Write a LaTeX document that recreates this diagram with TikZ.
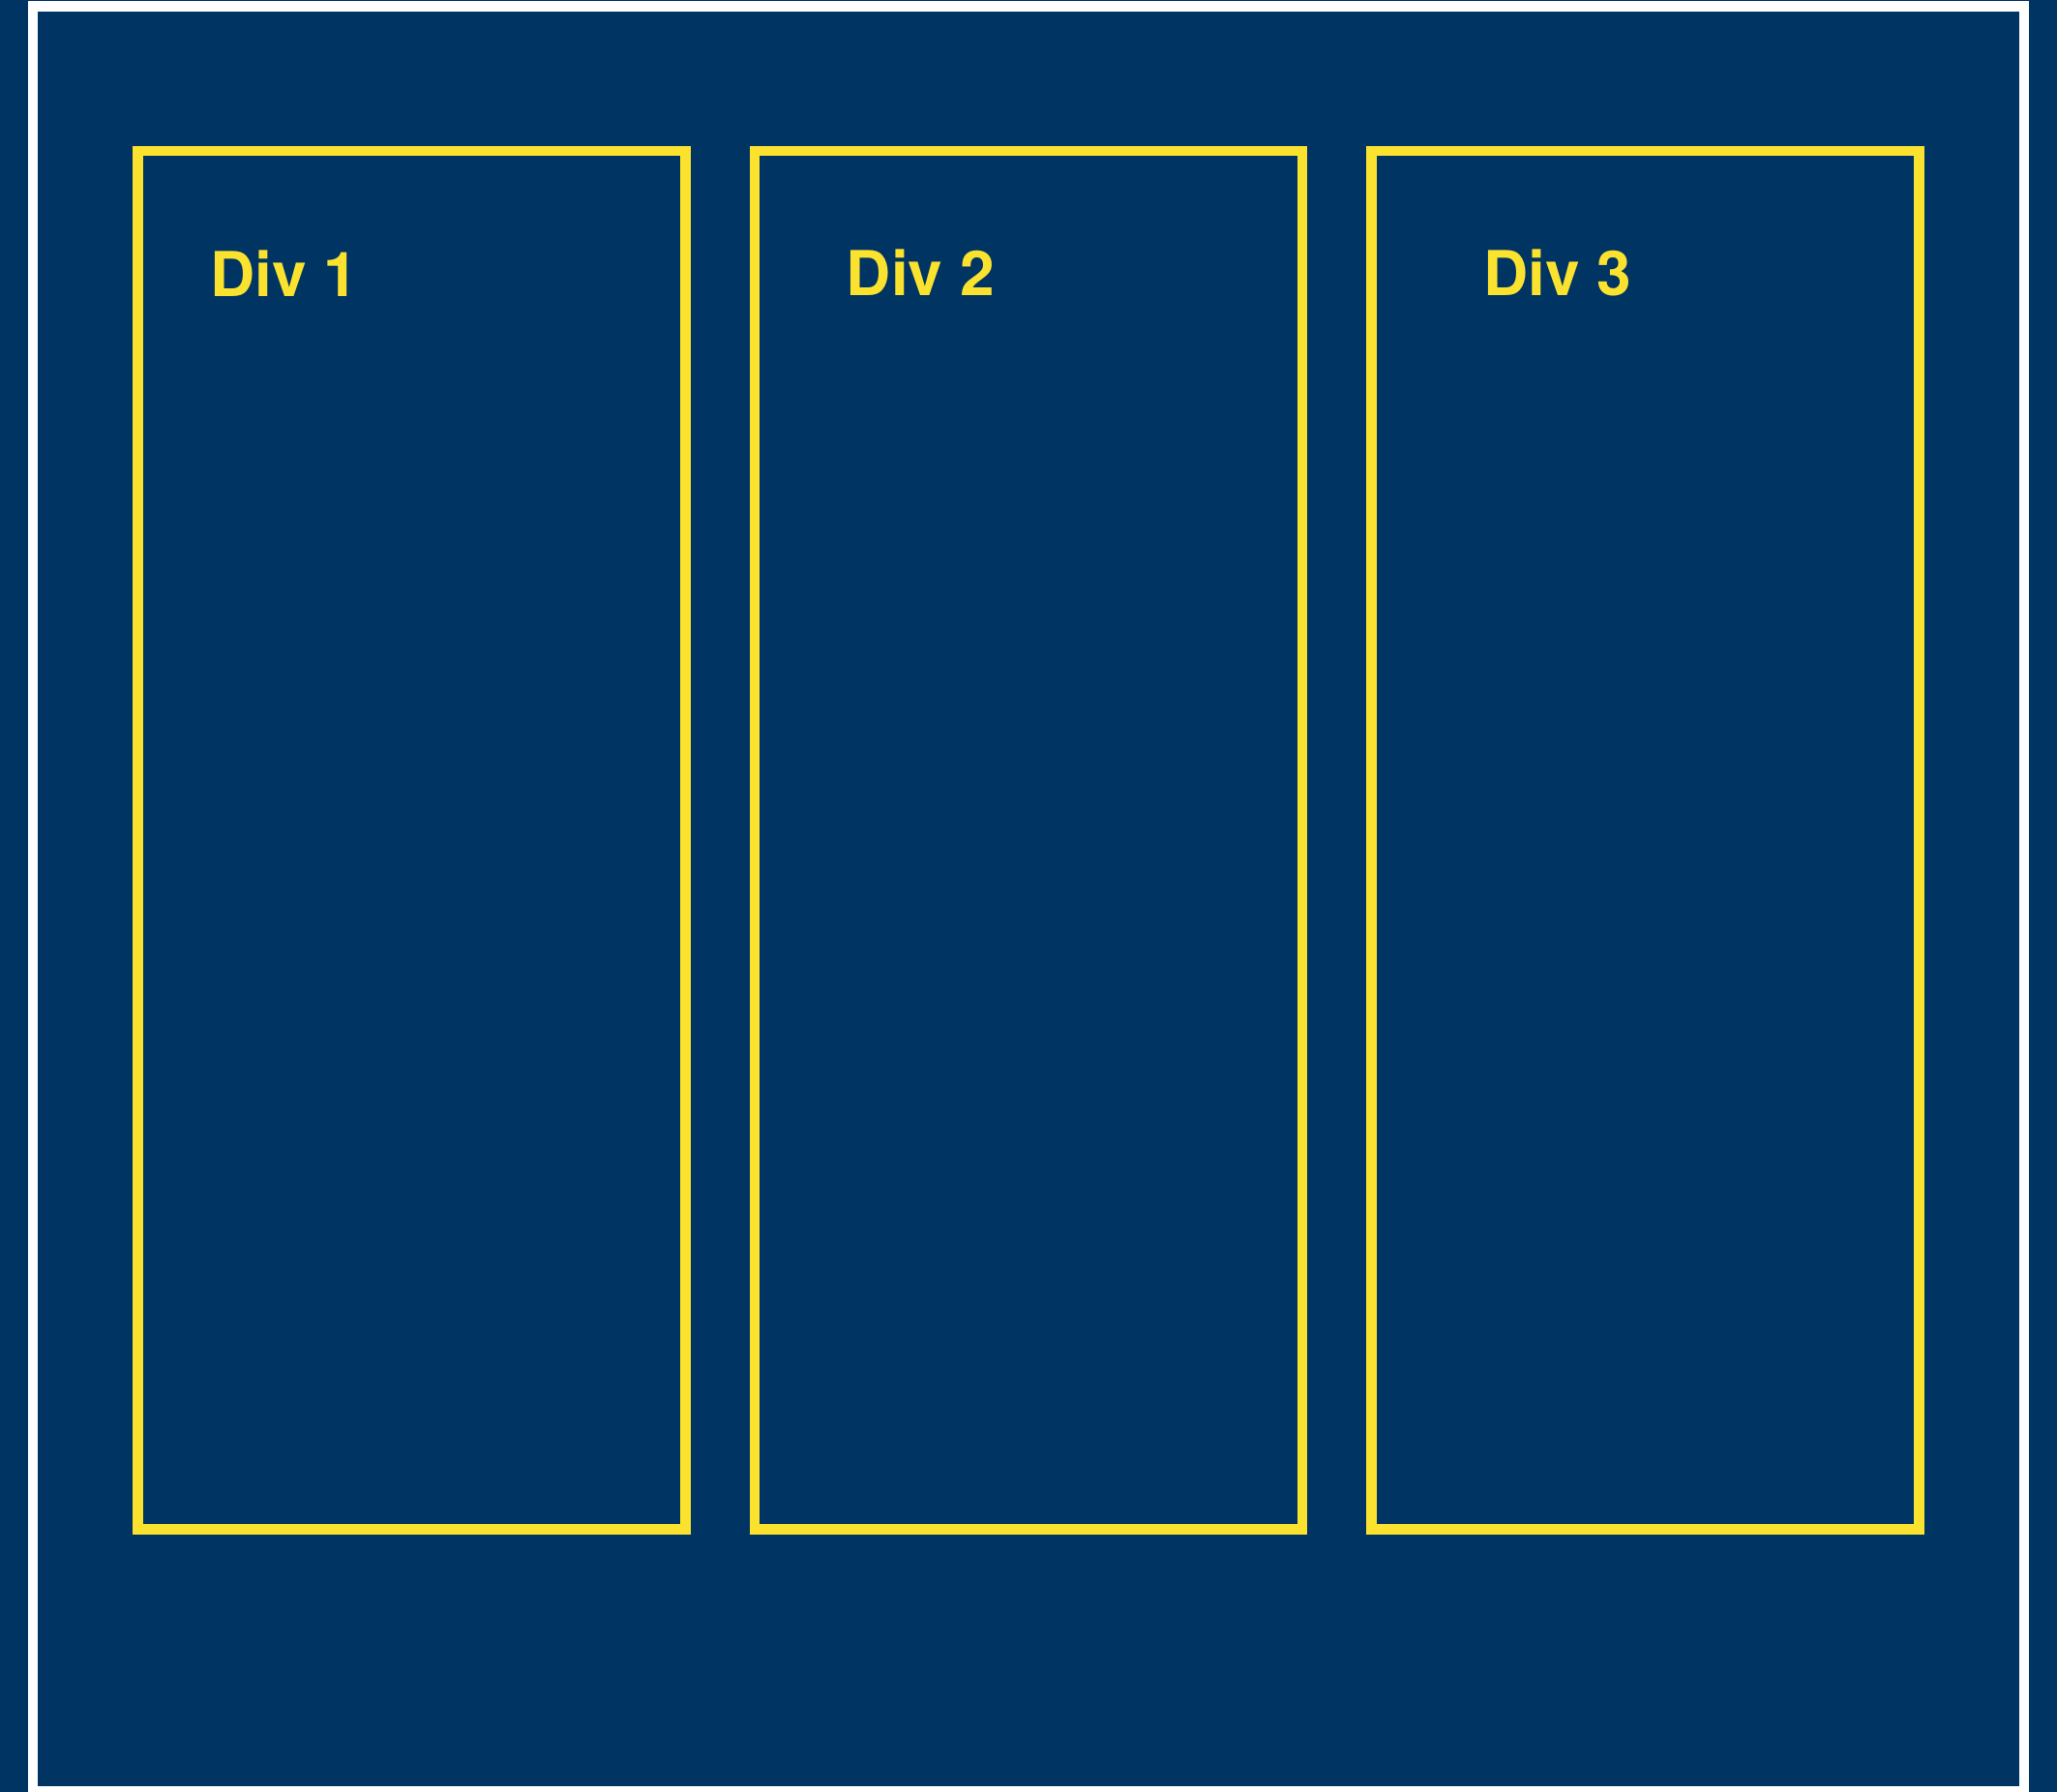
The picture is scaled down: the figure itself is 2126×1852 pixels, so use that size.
\documentclass[tikz,border=0pt]{standalone}
\usepackage{fontspec}
\setmainfont{TeX Gyre Heros}
\definecolor{navy}{HTML}{003563}
\definecolor{gold}{HTML}{FAE22E}
\begin{document}
\begin{tikzpicture}[x=0.5pt,y=-0.5pt,
  divbox/.style={draw=gold, line width=5.25pt, fill=none, inner sep=0pt,
    minimum width=283pt, minimum height=712.25pt},
  divlabel/.style={text=gold, anchor=base west, inner sep=0pt,
    font=\fontsize{32pt}{38pt}\selectfont\bfseries}]
  \useasboundingbox (0,0) rectangle (2126,1852);
  \fill[navy] (0,0) rectangle (2126,1852);
  \draw[white, line width=5.25pt] (34,6.5) rectangle (2092,1851);
  \node[divbox] (d1) at (425.5,868) {};
  \node[divbox] (d2) at (1063,868) {};
  \node[divbox] (d3) at (1700.3,868) {};
  \node[divlabel] (t1) at (217,306) {Div 1};
  \node[divlabel] (t2) at (874.5,305.5) {Div 2};
  \node[divlabel] (t3) at (1533,305.5) {Div 3};
\end{tikzpicture}
\end{document}
